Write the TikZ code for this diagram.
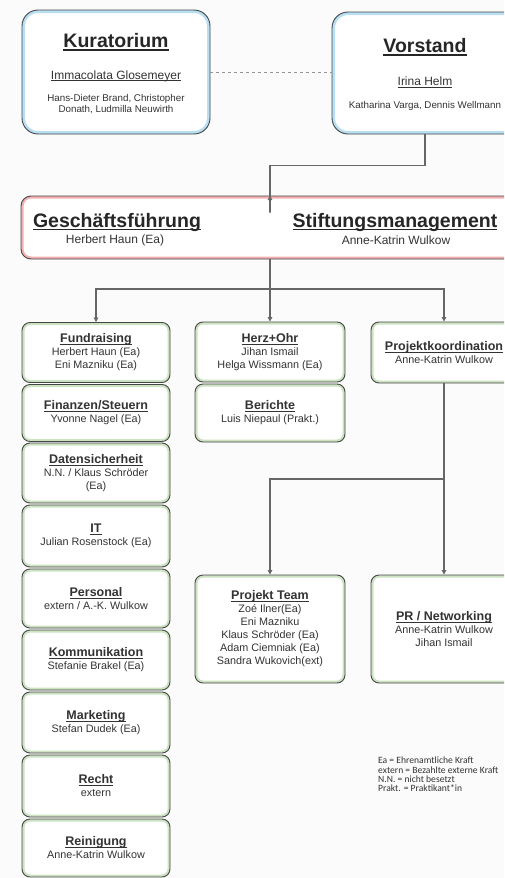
\documentclass[tikz,border=0pt]{standalone}
\usepackage{fontspec}
\setmainfont{Liberation Sans}
\newfontfamily\legendfont{Carlito}
\usetikzlibrary{arrows.meta}
\definecolor{glowB}{HTML}{B9DFF3}
\definecolor{glowR}{HTML}{F4B0B0}
\definecolor{glowG}{HTML}{CCE3C2}
\definecolor{edgeC}{HTML}{474747}
\definecolor{txtC}{HTML}{333333}
\definecolor{connC}{HTML}{666666}
\definecolor{bgC}{HTML}{FBFBFB}
\newcommand{\uln}[1]{\setbox0=\hbox{#1}\leavevmode\rlap{\rule[-0.16em]{\wd0}{0.065em}}\box0}
\tikzset{
  boxbase/.style={draw=edgeC, line width=0.9pt, fill=white, align=center, inner sep=2pt, text=txtC},
  bluebox/.style={boxbase, rounded corners=16pt,
    path picture={\draw[glowB, line width=6pt, rounded corners=16pt] (path picture bounding box.south west) rectangle (path picture bounding box.north east);}},
  redbox/.style={boxbase, rounded corners=10pt,
    path picture={\draw[glowR, line width=5pt, rounded corners=10pt] (path picture bounding box.south west) rectangle (path picture bounding box.north east);}},
  greenbox/.style={boxbase, rounded corners=8pt, minimum width=148pt, minimum height=60pt,
    font=\fontsize{10.8}{13}\selectfont,
    path picture={\draw[glowG, line width=5pt, rounded corners=8pt] (path picture bounding box.south west) rectangle (path picture bounding box.north east);}},
  bigtitle/.style={font=\fontsize{19.5}{22}\selectfont\bfseries, text=black!85, inner sep=0pt},
  chair/.style={font=\fontsize{12}{14}\selectfont, text=txtC, inner sep=0pt},
  members/.style={font=\fontsize{9.8}{11}\selectfont, text=txtC, inner sep=0pt, align=center},
  conn/.style={draw=connC, line width=1.1pt},
  arr/.style={conn, -{Triangle[length=4.5pt,width=4.5pt]}},
}
\newcommand{\gt}[1]{{\fontsize{12.5}{14}\selectfont\bfseries\uln{#1}}}
\begin{document}
\begin{tikzpicture}[x=1pt,y=-1pt]
\useasboundingbox (0,0) rectangle (504,878);
\clip (0,0) rectangle (504,878);
\fill[bgC] (0,0) rectangle (504,878);

% top boxes
\node[bluebox, minimum width=188pt, minimum height=124pt] (kur) at (116,72) {};
\node[bluebox, minimum width=210pt, minimum height=122pt] (vor) at (437,73) {};
\node[bigtitle] (kurT) at (116,42) {\uln{Kuratorium}};
\node[chair] (kurC) at (116,76) {\uln{Immacolata Glosemeyer}};
\node[members] (kurM) at (116,104.5) {Hans-Dieter Brand, Christopher\\Donath, Ludmilla Neuwirth};
\node[bigtitle] (vorT) at (425,47) {\uln{Vorstand}};
\node[chair] (vorC) at (425,82) {\uln{Irina Helm}};
\node[members] (vorM) at (425,106) {Katharina Varga, Dennis Wellmann};

% red box
\node[redbox, minimum width=530pt, minimum height=63pt] (gf) at (286,227.5) {};
\node[bigtitle] (gfT) at (117,222) {\uln{Geschäftsführung}};
\node[chair] (gfN) at (115,240) {Herbert Haun (Ea)};
\node[bigtitle] (smT) at (395,222) {\uln{Stiftungsmanagement}};
\node[chair] (smN) at (396,240) {Anne-Katrin Wulkow};

% column 1
\node[greenbox] (fund) at (96,352.5) {\gt{Fundraising}\\Herbert Haun (Ea)\\Eni Mazniku (Ea)};
\node[greenbox, minimum height=57pt] (fin) at (96,413) {\gt{Finanzen/Steuern}\\Yvonne Nagel (Ea)};
\node[greenbox] (dat) at (96,473) {\gt{Datensicherheit}\\N.N. / Klaus Schröder\\(Ea)};
\node[greenbox, minimum height=62pt] (it) at (96,536) {\gt{IT}\\Julian Rosenstock (Ea)};
\node[greenbox, minimum height=59pt] (pers) at (96,598.5) {\gt{Personal}\\extern / A.-K. Wulkow};
\node[greenbox] (komm) at (96,660) {\gt{Kommunikation}\\Stefanie Brakel (Ea)};
\node[greenbox, minimum height=61pt] (mark) at (96,722.5) {\gt{Marketing}\\Stefan Dudek (Ea)};
\node[greenbox, minimum height=62pt] (recht) at (96,786) {\gt{Recht}\\extern};
\node[greenbox, minimum height=58pt] (rein) at (96,848) {\gt{Reinigung}\\Anne-Katrin Wulkow};

% column 2
\node[greenbox, minimum width=150pt] (herz) at (270,352) {\gt{Herz+Ohr}\\Jihan Ismail\\Helga Wissmann (Ea)};
\node[greenbox, minimum width=150pt, minimum height=58pt] (ber) at (270,413) {\gt{Berichte}\\Luis Niepaul (Prakt.)};
\node[greenbox, minimum width=150pt, minimum height=108pt] (pt) at (270,629) {\gt{Projekt Team}\\Zoé Ilner(Ea)\\Eni Mazniku\\Klaus Schröder (Ea)\\Adam Ciemniak (Ea)\\Sandra Wukovich(ext)};

% column 3
\node[greenbox, minimum width=146pt, minimum height=61pt] (pk) at (444,352.5) {\gt{Projektkoordination}\\Anne-Katrin Wulkow};
\node[greenbox, minimum width=146pt, minimum height=108pt] (pr) at (444,629) {\gt{PR / Networking}\\Anne-Katrin Wulkow\\Jihan Ismail};

% legend
\node[anchor=north west, align=left, inner sep=0pt, text=txtC, font=\legendfont\fontsize{9.6}{9.3}\selectfont] (leg) at (378,757)
  {Ea = Ehrenamtliche Kraft\\extern = Bezahlte externe Kraft\\N.N. = nicht besetzt\\Prakt. = Praktikant*in};

% connectors
\draw[conn, dashed, draw=connC!70, line width=0.6pt] (kur.east) -- (kur.east -| vor.west);
\draw[arr] (vorT |- vor.south) -- ++(0,31) -| (gfT.north -| pt.north) -- (pt.north |- gf.north);
\coordinate (bus) at (270,289);
\draw[conn] (pt.north |- gf.south) -- (bus);
\draw[arr] (bus) -| (fund.north);
\draw[arr] (bus) -- (herz.north);
\draw[arr] (bus) -| (pk.north);
\coordinate (br) at (444,479);
\draw[arr] (pk.south) -- (pr.north);
\draw[arr] (br) -| (pt.north);
\end{tikzpicture}
\end{document}
